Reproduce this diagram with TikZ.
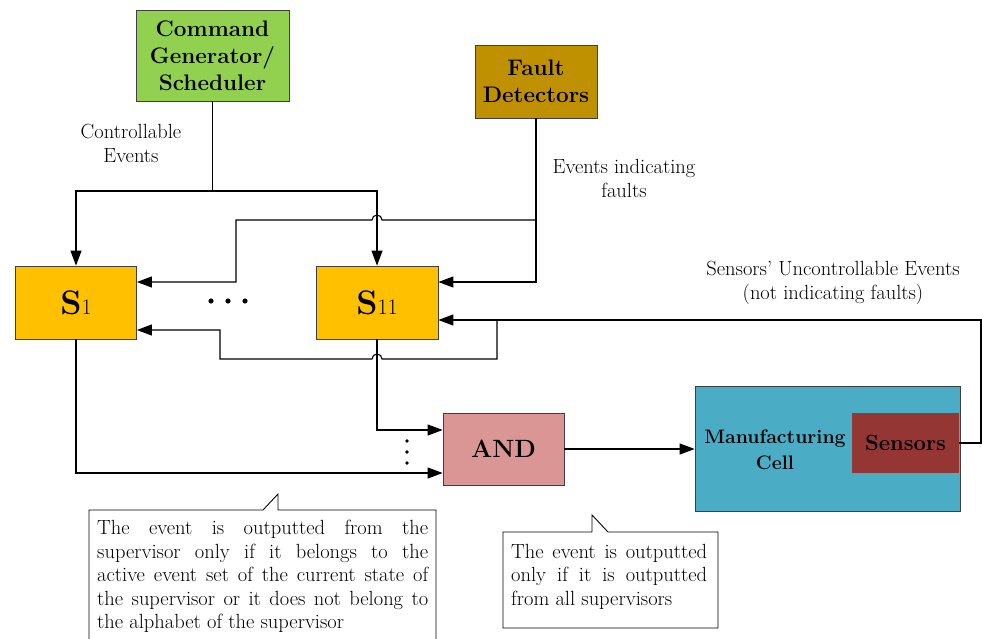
\documentclass[tikz,border=0pt]{standalone}
\usepackage{fontspec}
\usetikzlibrary{arrows.meta}
\definecolor{cmdg}{HTML}{92D050}
\definecolor{faultc}{HTML}{BF9000}
\definecolor{supc}{HTML}{FFC000}
\definecolor{andc}{HTML}{D99694}
\definecolor{cellc}{HTML}{4BACC6}
\definecolor{sensc}{HTML}{943634}
\begin{document}
\begin{tikzpicture}[x=1pt,y=-1pt,
  arr/.style={-{Triangle[length=15pt,width=11pt]}, line width=1.1pt},
  ln/.style={line width=1.1pt},
  box/.style={draw=black!75, line width=0.8pt, inner sep=0pt, align=center},
  bigb/.style={font=\bfseries\fontsize{22.5}{27}\selectfont},
  lbl/.style={font=\fontsize{20.5}{24}\selectfont, align=center, inner sep=0pt},
  note/.style={font=\fontsize{20.5}{23.5}\selectfont, align=justify, inner sep=0pt, anchor=north west},
  dotc/.style={fill=black, draw=none}
]
\useasboundingbox (0,0) rectangle (982,639);

% boxes
\node[box, bigb, fill=cmdg, minimum width=153pt, minimum height=91pt] (cmd) at (212.5,55.5) {Command\\Generator/\\Scheduler};
\node[box, bigb, fill=faultc, minimum width=122pt, minimum height=73pt] (fd) at (536,81.5) {Fault\\Detectors};
\node[box, fill=supc, minimum width=121pt, minimum height=73pt] (s1) at (76,302.5) {{\fontsize{34}{34}\selectfont\bfseries S}{\fontsize{22}{22}\selectfont 1}};
\node[box, fill=supc, minimum width=122pt, minimum height=73pt] (s11) at (377,302.5) {{\fontsize{34}{34}\selectfont\bfseries S}{\fontsize{22}{22}\selectfont 11}};
\node[box, fill=andc, minimum width=121pt, minimum height=72pt, font=\bfseries\fontsize{25}{25}\selectfont] (and) at (503.5,449) {AND};
\node[box, fill=cellc, minimum width=265pt, minimum height=125pt] (cell) at (827.5,449) {};
\node[fill=sensc, minimum width=107pt, minimum height=60pt, inner sep=0pt, font=\bfseries\fontsize{22}{24}\selectfont] (sens) at (905.5,443) {Sensors};
\node[font=\bfseries\fontsize{19.5}{26}\selectfont, align=center, inner sep=0pt] (celllbl) at (775,450) {Manufacturing\\Cell};

% labels
\node[lbl] (lcon) at (131,143) {Controllable\\Events};
\node[lbl] (lflt) at (624,178) {Events indicating\\faults};
\node[lbl] (lsen) at (833,283) {Sensors’ Uncontrollable Events\\(not indicating faults)};

% command generator
\coordinate (cj) at (212.5,191);
\draw[ln] (cmd.south) -- (cj);
\draw[arr] (cj) -| (s1.north);
\draw[arr] (cj) -| (s11.north);

% fault detectors
\coordinate (fj) at (536,220);
\draw[arr] (fd.south) |- (s11.east |- 0,282);
\draw[arr] (fj) -- (382,220) arc(360:180:5) -- (236,220) -- (236,282) -- (s1.east |- 0,282);

% sensor feedback
\coordinate (sr) at (981,443);
\coordinate (sj) at (497,320);
\draw[arr] (sens.east) -- (sr) -- (981,320) -- (s11.east |- 0,320);
\draw[arr] (sj) -- (497,359) -- (382,359) arc(360:180:5) -- (220,359) -- (220,330) -- (s1.east |- 0,330);

% to AND
\draw[arr] (s11.south) |- (and.west |- 0,430);
\draw[arr] (s1.south) |- (and.west |- 0,473);
\draw[arr] (and.east) -- (cell.west);

% dots
\foreach \x in {211,228,245} \fill[dotc] (\x,301) circle (2.6);
\foreach \y in {441,452,463} \fill[dotc] (407,\y) circle (1.8);

% callouts
\draw[line width=0.9pt, fill=white] (89,650) -- (89,510) -- (263,510) -- (278,494) -- (278,510) -- (436,510) -- (436,650);
\node[note, text width=331pt] (n1) at (97,520) {The event is outputted from the\linebreak supervisor only if it belongs to the\linebreak active event set of the current state of\linebreak the supervisor or it does not belong to\linebreak the alphabet of the supervisor};
\draw[line width=0.9pt, fill=white] (503,532) -- (592,532) -- (592,515) -- (608,532) -- (718,532) -- (718,628) -- (503,628) -- cycle;
\node[note, text width=196pt] (n2) at (511,544) {The event is outputted\linebreak only if it is outputted\linebreak from all supervisors};
\end{tikzpicture}
\end{document}
